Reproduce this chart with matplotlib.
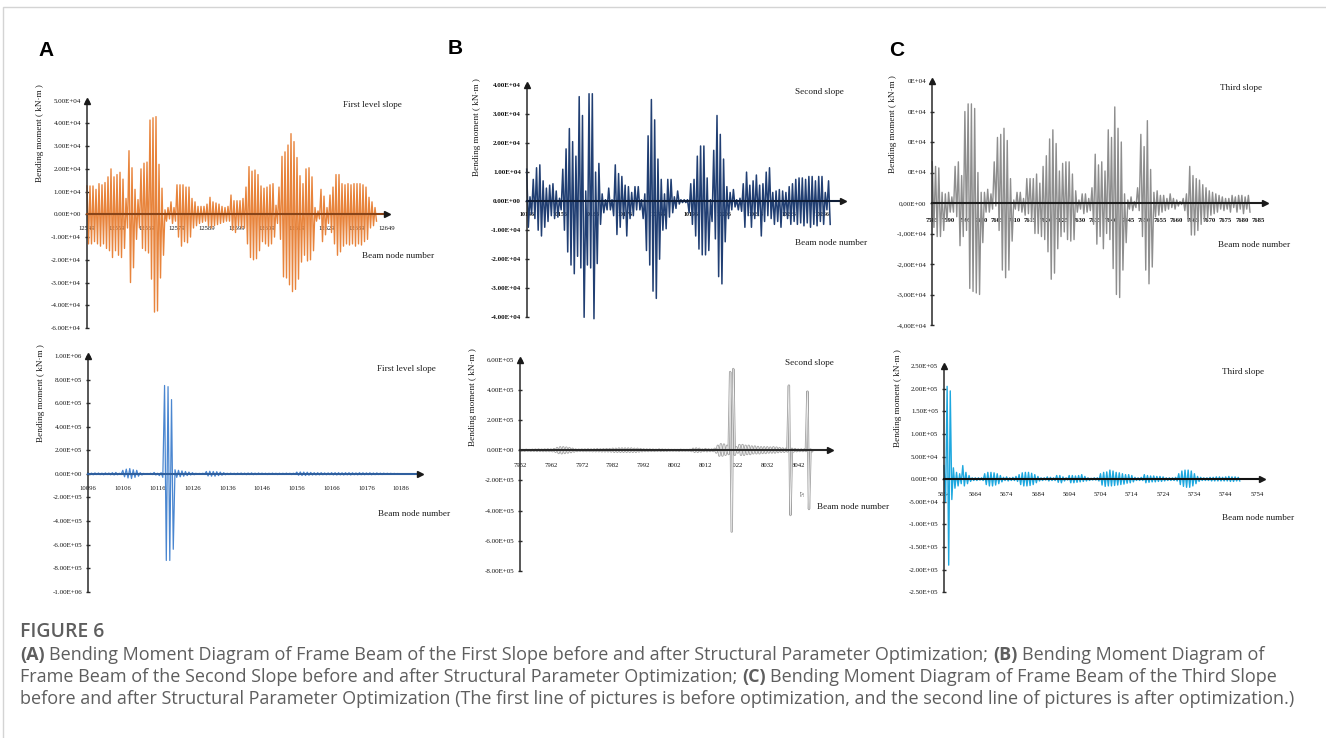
import numpy as np
import matplotlib
matplotlib.use("Agg")
import matplotlib.pyplot as plt
from matplotlib.ticker import FixedLocator, FixedFormatter
from matplotlib.font_manager import FontProperties
from matplotlib.patches import Rectangle

# ---------------------------------------------------------------- data
# Panel A (first slope), before optimization, values in 1e4 kN*m (peak / trough per node)
pos_a1 = [1.25, 1.25, 1.25, 1.1, 1.35, 1.3, 1.4, 1.65, 2.0, 1.65,
          1.75, 1.85, 1.55, 0.7, 2.8, 2.05, 1.1, 0.65, 2.0, 2.25,
          2.3, 4.15, 4.25, 4.3, 2.2, 1.15, 0.2, 0.3, 0.55, 0.3,
          1.3, 1.3, 1.3, 1.2, 1.2, 0.7, 0.55, 0.35, 0.35, 0.35,
          0.45, 0.75, 0.55, 0.5, 0.45, 0.35, 0.3, 0.35, 0.85, 0.6,
          0.6, 0.6, 0.7, 1.2, 2.1, 1.9, 1.95, 1.75, 1.25, 1.15,
          1.2, 1.3, 1.35, 0.4, 1.2, 2.55, 2.75, 3.05, 3.55, 3.2,
          2.5, 1.7, 1.35, 2.0, 2.05, 1.65, 0.3, 0.15, 1.1, 0.8,
          0.3, 0.85, 1.2, 1.75, 1.75, 1.35, 1.3, 1.35, 1.3, 1.35,
          1.35, 1.35, 1.3, 1.2, 0.75, 0.55, 0.3]
neg_a1 = [-1.3, -1.3, -1.2, -1.3, -1.4, -1.3, -1.5, -1.6, -1.9, -1.6,
          -1.8, -1.9, -1.5, -0.6, -3.0, -2.35, -1.1, -0.6, -1.5, -1.6,
          -1.7, -2.85, -4.3, -4.25, -2.8, -1.8, -0.3, -0.2, -0.4, -0.3,
          -1.0, -1.4, -1.2, -1.25, -1.0, -0.6, -0.5, -0.4, -0.35, -0.3,
          -0.5, -0.6, -0.5, -0.45, -0.4, -0.35, -0.3, -0.3, -0.7, -0.8,
          -0.5, -0.6, -0.6, -1.3, -1.9, -2.0, -1.95, -1.6, -1.2, -1.3,
          -1.4, -1.3, -1.0, -0.4, -1.1, -2.75, -2.8, -3.1, -3.4, -3.3,
          -2.85, -2.1, -1.8, -2.05, -2.0, -1.6, -0.3, -0.2, -1.2, -0.9,
          -0.4, -0.8, -1.3, -1.8, -1.65, -1.4, -1.3, -1.35, -1.3, -1.4,
          -1.3, -1.35, -1.2, -1.1, -0.6, -0.5, -0.3]
xt_a1 = ["12549", "12559", "12569", "12579", "12589", "12599",
         "12609", "12619", "12629", "12639", "12649"]
yv_a1 = [5e4, 4e4, 3e4, 2e4, 1e4, 0, -1e4, -2e4, -3e4, -4e4, -5e4]
yl_a1 = ["5.00E+04", "4.00E+04", "3.00E+04", "2.00E+04", "1.00E+04", "0.00E+00",
         "-1.00E+04", "-2.00E+04", "-3.00E+04", "-4.00E+04", "-6.00E+04"]

# Panel B (second slope), before optimization, 1e4 kN*m
pos_b1 = [1.1, 0.15, 0.75, 1.15, 1.25, 0.7, 0.45, 0.55, 0.6, 0.35,
          0.1, 1.1, 1.8, 2.5, 2.05, 1.55, 3.6, 2.95, 0.35, 3.7,
          3.7, 1.0, 1.3, 0.25, 0.05, 0.45, 0.05, 1.25, 0.95, 0.85,
          0.55, 0.5, 0.3, 0.5, 0.5, 0.05, 0.25, 2.25, 3.5, 2.8,
          1.45, 0.75, 0.25, 0.75, 0.75, 0.15, 0.35, 0.05, 0.05, 0.05,
          0.6, 0.75, 1.55, 1.9, 1.9, 0.8, 0.05, 1.75, 2.95, 2.3,
          1.45, 0.5, 0.3, 0.4, 0.05, 0.1, 0.6, 1.0, 0.55, 0.7,
          0.9, 0.55, 0.6, 1.0, 1.15, 0.3, 0.35, 0.4, 0.35, 0.3,
          0.5, 0.6, 0.75, 0.8, 0.8, 0.75, 0.85, 0.85, 0.7, 0.85,
          0.85, 0.3, 0.7]
neg_b1 = [-0.9, -0.45, -0.6, -1.0, -1.2, -0.9, -0.7, -0.5, -0.6, -0.55,
          -0.3, -1.0, -1.75, -2.2, -2.5, -1.9, -2.3, -4.0, -2.2, -2.3,
          -4.05, -2.15, -0.8, -0.4, -0.3, -0.3, -0.5, -1.15, -0.9, -0.6,
          -1.2, -0.6, -0.5, -0.3, -0.3, -0.6, -1.7, -2.2, -3.1, -3.35,
          -2.0, -1.0, -0.95, -0.55, -0.4, -0.25, -0.1, -0.05, -0.05, -0.4,
          -0.8, -1.2, -1.65, -1.85, -1.85, -1.7, -0.7, -1.3, -2.6, -2.85,
          -1.4, -0.6, -0.3, -0.2, -0.3, -0.35, -0.9, -0.5, -0.9, -0.6,
          -0.5, -1.2, -0.7, -0.5, -0.6, -0.8, -0.7, -0.9, -0.5, -0.6,
          -0.8, -0.7, -0.8, -0.75, -0.85, -0.75, -0.9, -0.8, -0.85, -0.7,
          -0.8, -0.3, -0.8]
xt_b1 = ["10146", "10156", "10166", "10176", "10186", "10196",
         "10206", "10216", "10226", "10236"]
yv_b1 = [4e4, 3e4, 2e4, 1e4, 0, -1e4, -2e4, -3e4, -4e4]
yl_b1 = ["4.00E+04", "3.00E+04", "2.00E+04", "1.00E+04", "0.00E+00",
         "-1.00E+04", "-2.00E+04", "-3.00E+04", "-4.00E+04"]

# Panel C (third slope), before optimization, 1e4 kN*m
pos_c1 = [1.35, 1.2, 1.15, 0.35, 0.3, 0.35, 0.2, 1.2, 1.35, 0.9,
          3.0, 3.25, 3.25, 3.1, 1.0, 0.35, 0.35, 0.45, 0.3, 1.35,
          2.15, 2.25, 2.45, 2.05, 0.8, 0.1, 0.35, 0.35, 0.15, 0.8,
          0.8, 0.8, 0.95, 0.65, 1.2, 1.55, 2.1, 2.4, 1.95, 1.05,
          1.3, 1.35, 1.35, 0.95, 0.4, 0.1, 0.3, 0.3, 0.15, 0.5,
          1.6, 1.25, 1.35, 1.05, 2.4, 2.15, 3.15, 2.45, 2.0, 0.3,
          0.1, 0.2, 0.05, 0.5, 2.25, 1.85, 2.7, 1.1, 0.35, 0.4,
          0.25, 0.25, 0.15, 0.3, 0.15, 0.1, 0.05, 0.15, 0.3, 1.2,
          0.9, 0.8, 0.75, 0.6, 0.5, 0.4, 0.35, 0.3, 0.25, 0.2,
          0.15, 0.15, 0.25, 0.2, 0.25, 0.25, 0.2, 0.25]
neg_c1 = [-0.8, -1.1, -1.1, -0.9, -0.6, -0.3, -0.3, -0.45, -1.4, -1.1,
          -0.9, -2.8, -2.9, -2.95, -3.0, -1.3, -0.3, -0.3, -0.2, -0.1,
          -0.9, -2.2, -2.45, -2.2, -1.25, -0.2, -0.25, -0.3, -0.4, -0.35,
          -0.6, -1.0, -1.0, -1.1, -1.2, -1.6, -2.5, -2.3, -1.5, -1.1,
          -0.95, -1.2, -1.25, -1.2, -0.3, -0.2, -0.35, -0.3, -0.25, -0.7,
          -1.35, -1.1, -1.5, -1.0, -1.2, -2.15, -3.0, -3.1, -2.2, -1.3,
          -0.2, -0.25, -0.15, -0.25, -1.1, -2.2, -2.65, -2.1, -0.45, -0.4,
          -0.3, -0.25, -0.2, -0.15, -0.2, -0.1, -0.05, -0.25, -0.6, -1.05,
          -1.05, -0.9, -0.7, -0.6, -0.5, -0.4, -0.35, -0.3, -0.2, -0.25,
          -0.2, -0.3, -0.15, -0.3, -0.2, -0.35, -0.2, -0.3]
xt_c1 = ["7585", "7590", "7595", "7600", "7605", "7610", "7615", "7620", "7625",
         "7630", "7635", "7640", "7645", "7650", "7655", "7660", "7665", "7670",
         "7675", "7680", "7685"]
yv_c1 = [4e4, 3e4, 2e4, 1e4, 0, -1e4, -2e4, -3e4, -4e4]
yl_c1 = ["0E+04", "0E+04", "0E+04", "0E+04", "0,00E+00",
         "-1,00E+04", "-2,00E+04", "-3,00E+04", "-4,00E+04"]

# Panel A, after optimization, 1e5 kN*m
pos_a2 = [0.08, 0.06, 0.08, 0.07, 0.06, 0.08, 0.07, 0.1, 0.12, 0.05,
          0.3, 0.4, 0.45, 0.35, 0.3, 0.1, 0.04, 0.03, 0.05, 0.12,
          0.05, 0.1, 7.5, 7.4, 6.3, 0.35, 0.3, 0.25, 0.2, 0.15,
          0.1, 0.05, 0.04, 0.05, 0.2, 0.22, 0.2, 0.18, 0.15, 0.1,
          0.05, 0.06, 0.05, 0.06, 0.07, 0.06, 0.07, 0.08, 0.06, 0.07,
          0.06, 0.05, 0.05, 0.06, 0.05, 0.05, 0.05, 0.06, 0.05, 0.05,
          0.15, 0.16, 0.15, 0.14, 0.12, 0.1, 0.1, 0.1, 0.08, 0.08,
          0.1, 0.1, 0.1, 0.09, 0.1, 0.1, 0.09, 0.08, 0.1, 0.09,
          0.08, 0.09, 0.07, 0.08, 0.06, 0.06, 0.05, 0.05, 0.04, 0.03]
neg_a2 = [-0.06, -0.08, -0.06, -0.07, -0.08, -0.06, -0.08, -0.1, -0.08, -0.06,
          -0.25, -0.35, -0.4, -0.3, -0.2, -0.1, -0.05, -0.04, -0.06, -0.1,
          -0.15, -0.3, -7.35, -7.35, -6.4, -0.3, -0.25, -0.2, -0.15, -0.1,
          -0.08, -0.05, -0.05, -0.05, -0.18, -0.2, -0.2, -0.15, -0.12, -0.08,
          -0.06, -0.05, -0.06, -0.05, -0.06, -0.07, -0.06, -0.07, -0.06, -0.05,
          -0.05, -0.06, -0.05, -0.05, -0.06, -0.05, -0.05, -0.05, -0.06, -0.05,
          -0.12, -0.14, -0.14, -0.12, -0.1, -0.1, -0.09, -0.08, -0.08, -0.07,
          -0.09, -0.1, -0.09, -0.1, -0.09, -0.1, -0.08, -0.09, -0.08, -0.08,
          -0.07, -0.08, -0.07, -0.06, -0.06, -0.05, -0.05, -0.04, -0.04, -0.03]
xt_a2 = ["10096", "10106", "10116", "10126", "10136", "10146", "10156",
         "10166", "10176", "10186"]
yv_a2 = [1e6, 8e5, 6e5, 4e5, 2e5, 0, -2e5, -4e5, -6e5, -8e5, -1e6]
yl_a2 = ["1.00E+06", "8.00E+05", "6.00E+05", "4.00E+05", "2.00E+05", "0.00E+00",
         "-2.00E+05", "-4.00E+05", "-6.00E+05", "-8.00E+05", "-1.00E+06"]

# Panel B, after optimization, 1e5 kN*m
pos_b2 = [0.02, 0.02, 0.03, 0.02, 0.03, 0.04, 0.05, 0.04, 0.05, 0.06,
          0.05, 0.08, 0.15, 0.2, 0.2, 0.18, 0.15, 0.1, 0.05, 0.04,
          0.05, 0.05, 0.06, 0.05, 0.06, 0.07, 0.06, 0.07, 0.08, 0.08,
          0.1, 0.1, 0.12, 0.12, 0.12, 0.12, 0.12, 0.1, 0.1, 0.08,
          0.06, 0.05, 0.05, 0.04, 0.03, 0.05, 0.04, 0.03, 0.03, 0.02,
          0.02, 0.02, 0.03, 0.02, 0.02, 0.03, 0.1, 0.12, 0.1, 0.05,
          0.08, 0.06, 0.05, 0.1, 0.3, 0.4, 0.38, 0.3, 5.2, 5.4,
          0.2, 0.35, 0.35, 0.3, 0.3, 0.25, 0.25, 0.22, 0.2, 0.2,
          0.2, 0.18, 0.2, 0.18, 0.15, 0.12, 0.1, 4.3, 0.1, 0.08,
          0.05, 0.05, 0.05, 3.9, 0.05]
neg_b2 = [-0.02, -0.03, -0.02, -0.03, -0.03, -0.04, -0.04, -0.05, -0.05, -0.05,
          -0.06, -0.1, -0.18, -0.2, -0.18, -0.15, -0.12, -0.08, -0.05, -0.04,
          -0.05, -0.05, -0.05, -0.06, -0.06, -0.06, -0.07, -0.07, -0.07, -0.08,
          -0.1, -0.1, -0.1, -0.1, -0.1, -0.1, -0.1, -0.1, -0.08, -0.06,
          -0.05, -0.05, -0.04, -0.04, -0.03, -0.04, -0.03, -0.03, -0.02, -0.02,
          -0.02, -0.03, -0.02, -0.02, -0.02, -0.05, -0.1, -0.1, -0.08, -0.05,
          -0.06, -0.05, -0.05, -0.15, -0.35, -0.35, -0.3, -0.25, -5.4, -0.3,
          -0.15, -0.3, -0.3, -0.25, -0.25, -0.2, -0.2, -0.2, -0.18, -0.18,
          -0.15, -0.15, -0.15, -0.12, -0.1, -0.1, -0.08, -4.3, -0.08, -0.06,
          -0.05, -0.05, -0.05, -3.9, -0.05]
xt_b2 = ["7952", "7962", "7972", "7982", "7992", "8002", "8012", "8022", "8032", "8042"]
yv_b2 = [6e5, 4e5, 2e5, 0, -2e5, -4e5, -6e5, -8e5]
yl_b2 = ["6.00E+05", "4.00E+05", "2.00E+05", "0.00E+00",
         "-2.00E+05", "-4.00E+05", "-6.00E+05", "-8.00E+05"]

# Panel C, after optimization, 1e4 kN*m
pos_c2 = [3.0, 20.5, 19.5, 2.5, 1.5, 1.2, 3.0, 1.5, 0.8, 0.3,
          0.3, 0.3, 0.3, 1.2, 1.5, 1.5, 1.4, 1.2, 0.8, 0.4,
          0.5, 0.3, 0.4, 0.6, 1.0, 1.4, 1.5, 1.5, 1.3, 1.0,
          0.6, 0.3, 0.3, 0.5, 0.4, 0.3, 0.8, 0.8, 0.5, 0.3,
          0.8, 0.8, 0.7, 0.8, 1.0, 0.6, 0.3, 0.2, 0.3, 0.3,
          1.2, 1.5, 1.6, 2.0, 1.8, 1.5, 1.4, 1.2, 1.0, 1.0,
          0.8, 0.4, 0.3, 0.4, 1.0, 0.8, 0.7, 0.7, 0.6, 0.6,
          0.5, 0.3, 0.3, 0.3, 0.4, 1.2, 1.8, 2.0, 2.0, 1.8,
          1.2, 0.6, 0.4, 0.3, 0.3, 0.4, 0.4, 0.5, 0.5, 0.4,
          0.5, 0.6, 0.5, 0.5, 0.4]
neg_c2 = [-5.0, -19.0, -4.5, -2.0, -1.5, -1.0, -1.5, -1.0, -0.5, -0.3,
          -0.3, -0.2, -0.3, -1.2, -1.5, -1.5, -1.3, -1.0, -0.6, -0.3,
          -0.4, -0.3, -0.3, -0.5, -1.2, -1.5, -1.5, -1.4, -1.2, -0.8,
          -0.4, -0.3, -0.2, -0.4, -0.3, -0.3, -0.7, -0.8, -0.4, -0.2,
          -0.8, -0.8, -0.7, -0.6, -0.5, -0.4, -0.3, -0.2, -0.2, -0.4,
          -1.3, -1.6, -1.5, -1.5, -1.4, -1.3, -1.2, -1.1, -0.9, -0.8,
          -0.6, -0.3, -0.3, -0.3, -0.8, -0.7, -0.6, -0.6, -0.5, -0.5,
          -0.4, -0.3, -0.3, -0.3, -0.4, -1.2, -1.6, -1.8, -1.8, -1.5,
          -1.0, -0.5, -0.3, -0.3, -0.3, -0.4, -0.4, -0.4, -0.4, -0.4,
          -0.4, -0.5, -0.5, -0.4, -0.4]
xt_c2 = ["5654", "5664", "5674", "5684", "5694", "5704", "5714", "5724",
         "5734", "5744", "5754"]
yv_c2 = [2.5e5, 2e5, 1.5e5, 1e5, 5e4, 0, -5e4, -1e5, -1.5e5, -2e5, -2.5e5]
yl_c2 = ["2.50E+05", "2.00E+05", "1.50E+05", "1.00E+05", "5.00E+04", "0.00E+00",
         "-5.00E+04", "-1.00E+05", "-1.50E+05", "-2.00E+05", "-2.50E+05"]

titles = ["First level slope", "Second slope", "Third slope"]
ylab = "Bending moment ( kN\u00b7m )"
xlab = "Beam node number"
caption_head = "FIGURE 6"
caption_lines = [
    [("(A)", True), ("Bending Moment Diagram of Frame Beam of the First Slope before and after Structural Parameter Optimization;", False),
     ("(B)", True), ("Bending Moment Diagram of", False)],
    [("Frame Beam of the Second Slope before and after Structural Parameter Optimization;", False),
     ("(C)", True), ("Bending Moment Diagram of Frame Beam of the Third Slope", False)],
    [("before and after Structural Parameter Optimization (The first line of pictures is before optimization, and the second line of pictures is after optimization.)", False)],
]

# ---------------------------------------------------------------- figure
W, H = 1326, 738
plt.rcParams['font.family'] = ['Liberation Serif', 'DejaVu Serif']
fig = plt.figure(figsize=(W / 100, H / 100), dpi=100)
SERIF = 'Liberation Serif'

fig.patches.append(Rectangle((3 / W, -0.2), 1.2, 1.2 - 7 / H, transform=fig.transFigure,
                             fill=False, edgecolor='#d4d4d4', lw=1.0))


def panel(box, xlim, ylim, xt, yv, yl, pos, neg, unit, color, zero_color, lw,
          xt_size=4.8, yt_size=5.0, hollow=False, xt_weight='normal', yt_weight='normal',
          xpad=7.5):
    l, r, t, b = box
    ax = fig.add_axes([l / W, 1 - b / H, (r - l) / W, (b - t) / H])
    n = len(pos)
    xs = np.empty(2 * n)
    ys = np.empty(2 * n)
    xs[0::2] = xlim[0] + np.arange(n)
    xs[1::2] = xlim[0] + np.arange(n) + 0.5
    ys[0::2] = np.asarray(pos) * unit
    ys[1::2] = np.asarray(neg) * unit
    if hollow:
        ax.plot(xs, ys, color=color, lw=lw + 1.1, zorder=2, clip_on=False)
        ax.plot(xs, ys, color='#f4f4f4', lw=0.5, zorder=2.1, clip_on=False)
    else:
        ax.plot(xs, ys, color=color, lw=lw, zorder=2, clip_on=False)
    ax.set_xlim(*xlim)
    ax.set_ylim(*ylim)
    ax.patch.set_alpha(0)
    for s in ('top', 'right'):
        ax.spines[s].set_visible(False)
    ax.spines['bottom'].set_position(('data', 0))
    ax.spines['bottom'].set_color(zero_color)
    ax.spines['bottom'].set_linewidth(1.5)
    ax.spines['bottom'].set_zorder(3)
    ax.spines['left'].set_color('#2a2a2a')
    ax.spines['left'].set_linewidth(1.1)
    ax.xaxis.set_major_locator(FixedLocator([int(s) for s in xt]))
    ax.xaxis.set_major_formatter(FixedFormatter(xt))
    ax.yaxis.set_major_locator(FixedLocator(yv))
    ax.yaxis.set_major_formatter(FixedFormatter(yl))
    ax.tick_params(axis='x', length=0, pad=xpad, labelsize=xt_size, labelcolor='#111111')
    ax.tick_params(axis='y', length=2.5, width=1.0, direction='inout', pad=3,
                   labelsize=yt_size, labelcolor='#111111', color='#2a2a2a')
    for lab in ax.get_xticklabels():
        lab.set_fontweight(xt_weight)
    for lab in ax.get_yticklabels():
        lab.set_fontweight(yt_weight)
    ax.plot([1], [0], marker='>', ms=4.5, color='#1a1a1a', transform=ax.get_yaxis_transform(),
            clip_on=False, zorder=4)
    ax.plot([0], [1], marker='^', ms=4.5, color='#1a1a1a', transform=ax.transAxes,
            clip_on=False, zorder=4)
    return ax


def ftext(x, y, s, **kw):
    return fig.text(x / W, 1 - y / H, s, **kw)


# --- top row (before optimization)
panel((87, 387, 100.7, 328), (12549, 12649), (-5e4, 5e4), xt_a1, yv_a1, yl_a1,
      pos_a1, neg_a1, 1e4, '#e8843c', '#8a4519', 1.0, xt_size=4.8, xpad=8.5)
panel((526.7, 843, 85, 317.3), (10146, 10242.4), (-4e4, 4e4), xt_b1, yv_b1, yl_b1,
      pos_b1, neg_b1, 1e4, '#213f73', '#0f1e38', 1.1, xt_size=4.2, xt_weight='bold',
      yt_weight='bold', xpad=8.0)
panel((932.3, 1265, 81, 325), (7585, 7687.1), (-4e4, 4e4), xt_c1, yv_c1, yl_c1,
      pos_c1, neg_c1, 1e4, '#8e8e8e', '#1e1e1e', 1.0, xt_size=4.8, xt_weight='bold',
      xpad=10.5)
# --- bottom row (after optimization)
panel((88, 420, 356, 591.7), (10096, 10191.4), (-1e6, 1e6), xt_a2, yv_a2, yl_a2,
      pos_a2, neg_a2, 1e5, '#4a86d0', '#2f5f9e', 0.9, xt_size=4.8, xpad=8.5)
panel((520, 830, 360, 570.7), (7952, 8052.3), (-8e5, 6e5), xt_b2, yv_b2, yl_b2,
      pos_b2, neg_b2, 1e5, '#a2a2a2', '#2a2a2a', 0.6, xt_size=4.8, hollow=True, xpad=9.5)
panel((944, 1261.7, 366, 592.3), (5654, 5755.5), (-2.5e5, 2.5e5), xt_c2, yv_c2, yl_c2,
      pos_c2, neg_c2, 1e4, '#1ea8df', '#111111', 1.0, xt_size=4.8, xpad=9.0)

# panel annotations
tkw = dict(family=SERIF, fontsize=6.6, color='#1a1a1a')
for (x, y), s in zip([(343, 105), (795, 92), (1220, 88), (377, 369), (785, 363), (1222, 372)],
                     titles + titles):
    ftext(x, y, s, ha='left', va='center', **tkw)
for (x, y) in [(362, 256), (795, 243), (1218, 245), (378, 514), (817, 507), (1222, 518)]:
    ftext(x, y, xlab, ha='left', va='center', **tkw)
for (x, y) in [(40, 133), (477, 127), (893, 124), (41, 393), (473, 397), (898, 398)]:
    ftext(x, y, ylab, ha='center', va='center', rotation=90, **tkw)
ftext(803, 493, "57", ha='center', va='center', rotation=90, family=SERIF, fontsize=4.5,
      color='#555555')

# panel letters
for (x, y), s in zip([(46, 51), (455, 49), (897, 51)], ["A", "B", "C"]):
    ftext(x, y, s, ha='center', va='center', family='Liberation Sans', fontsize=15,
          fontweight='bold', color='#000000')

# ---------------------------------------------------------------- caption
renderer = fig.canvas.get_renderer()
CAP = 'Open Sans'
CAP_COLOR = '#5e5e5e'


def twidth(s, size, bold):
    fp = FontProperties(family=CAP, size=size, weight='bold' if bold else 'normal')
    w, h, d = renderer.get_text_width_height_descent(s, fp, ismath=False)
    return w


def line_width(parts, size):
    sp = twidth("a a", size, False) - twidth("aa", size, False)
    return sum(twidth(s, size, b) for s, b in parts) + sp * (len(parts) - 1)


base = 10.0
cap_size = base * (1245.0 / line_width(caption_lines[0], base))

ftext(20, 637, caption_head, ha='left', va='baseline', family=CAP, fontsize=cap_size * 1.08,
      fontweight='semibold', color=CAP_COLOR)
for i, parts in enumerate(caption_lines):
    x = 20.0
    y = 660 + 22 * i
    sp = twidth("a a", cap_size, False) - twidth("aa", cap_size, False)
    for s, b in parts:
        ftext(x, y, s, ha='left', va='baseline', family=CAP, fontsize=cap_size,
              fontweight='bold' if b else 'normal', color=CAP_COLOR)
        x += twidth(s, cap_size, b) + sp

fig.savefig("out.png", dpi=100)
